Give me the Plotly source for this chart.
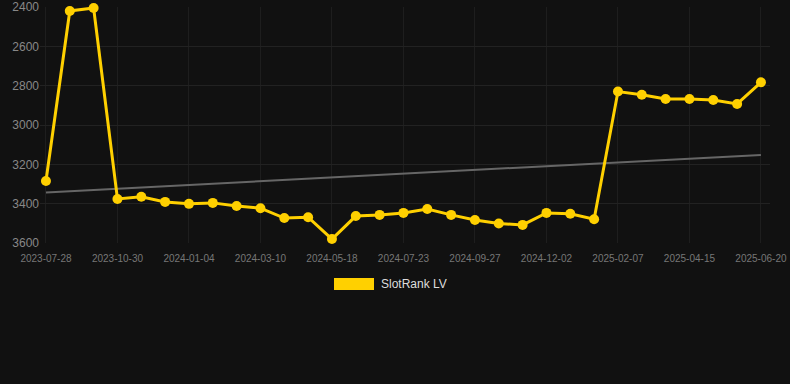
import plotly.graph_objects as go

dates = ["2023-07-28", "2023-08-28", "2023-09-28", "2023-10-30", "2023-11-21", "2023-12-13",
         "2024-01-04", "2024-01-26", "2024-02-17", "2024-03-10", "2024-04-02", "2024-04-25",
         "2024-05-18", "2024-06-09", "2024-07-01", "2024-07-23", "2024-08-14", "2024-09-05",
         "2024-09-27", "2024-10-19", "2024-11-10", "2024-12-02", "2024-12-24", "2025-01-16",
         "2025-02-07", "2025-03-01", "2025-03-23", "2025-04-15", "2025-05-07", "2025-05-29",
         "2025-06-20"]
rank = [3285, 2420, 2405, 3376, 3365, 3391, 3401, 3396, 3412, 3423, 3473, 3469, 3580, 3463,
        3457, 3447, 3427, 3457, 3483, 3501, 3508, 3447, 3451, 3479, 2830, 2846, 2868, 2868,
        2873, 2893, 2783]
trend_dates = [dates[0], dates[-1]]
trend_vals = [3343, 3152]
tick_labels = dates[::3]
y_ticks = [2400, 2600, 2800, 3000, 3200, 3400, 3600]

YELLOW = "#FFD000"
BG = "#111111"

fig = go.Figure()
fig.add_trace(go.Scatter(x=trend_dates, y=trend_vals, mode="lines",
                         line=dict(color="#666666", width=2), showlegend=False,
                         hoverinfo="skip", cliponaxis=False))
fig.add_trace(go.Scatter(x=dates, y=rank, mode="lines+markers", name="SlotRank LV",
                         line=dict(color=YELLOW, width=3),
                         marker=dict(color=YELLOW, size=10), showlegend=False,
                         cliponaxis=False))

# legend drawn as a rectangle + label
fig.add_shape(type="rect", xref="paper", yref="paper",
              x0=(334 - 40) / 730, x1=(374 - 40) / 730,
              y0=(243 - 290) / 236, y1=(243 - 278) / 236,
              fillcolor=YELLOW, line=dict(width=0))
fig.add_annotation(text="SlotRank LV", xref="paper", yref="paper",
                   x=(379 - 40) / 730, y=(243 - 284) / 236, xanchor="left", yanchor="middle",
                   showarrow=False, font=dict(color="#dddddd", size=12))

fig.update_layout(
    width=790, height=384,
    margin=dict(l=40, r=20, t=7, b=141),
    paper_bgcolor=BG, plot_bgcolor=BG,
    font=dict(family="Liberation Sans, Arial, sans-serif", color="#888888"),
    xaxis=dict(type="category", categoryorder="array", categoryarray=dates,
               tickmode="array", tickvals=tick_labels, ticktext=tick_labels,
               range=[-0.25, 30.38], showgrid=True, gridcolor="#1e1e1e", gridwidth=1,
               zeroline=False, showline=False, tickfont=dict(size=10, color="#777777"),
               ticks="", ticklabelstandoff=8, automargin=False),
    yaxis=dict(range=[3600, 2400], tickvals=y_ticks, showgrid=True, gridcolor="#222222",
               zeroline=False, showline=False, tickfont=dict(size=12, color="#888888"),
               ticks="", automargin=False),
)

fig.write_html("out.html", config={"displayModeBar": False},
               post_script="document.body.style.margin='0';document.body.style.background='#111111';")
